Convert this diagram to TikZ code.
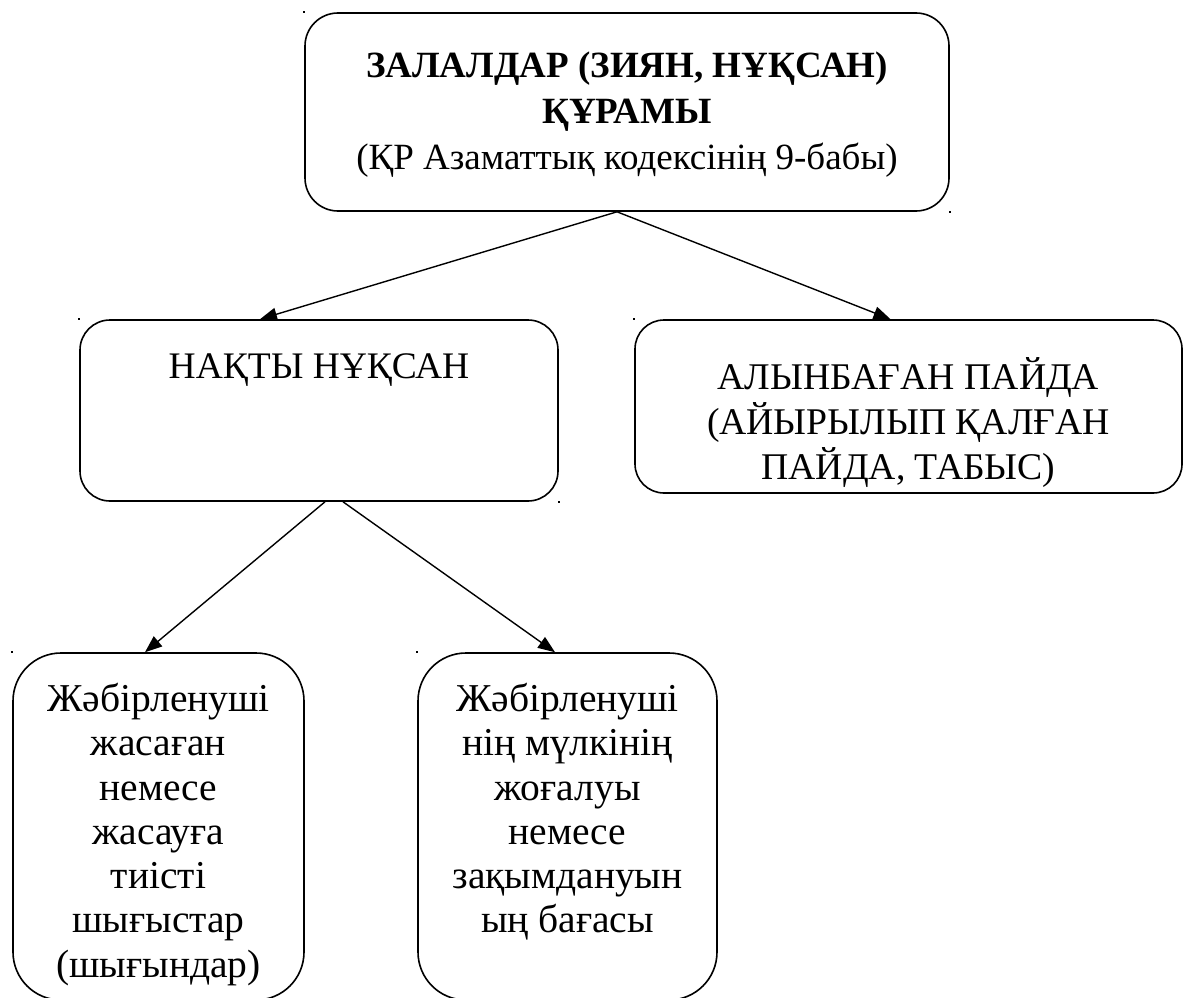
\documentclass[tikz,border=0pt]{standalone}
\usepackage{fontspec}
\setmainfont{Liberation Serif}
\usetikzlibrary{arrows.meta}
\begin{document}
\begin{tikzpicture}[x=1pt,y=-1pt,
  box/.style={draw, line width=1.6pt, inner sep=0pt},
  txt/.style={align=center, inner sep=0pt, font=\fontsize{37}{44}\selectfont},
  bigtxt/.style={align=center, inner sep=0pt, font=\fontsize{39.5}{44.3}\selectfont},
  arr/.style={-{Triangle[length=17pt,width=13pt]}, line width=1.4pt},
  anchordot/.style={fill, inner sep=0pt, minimum size=2.5pt}]
\useasboundingbox (0,0) rectangle (1183,998);
% boxes
\node[box, rounded corners=33pt, minimum width=644pt, minimum height=198pt] (top) at (627,112) {};
\node[box, rounded corners=30pt, minimum width=478pt, minimum height=181pt] (left) at (319,410.5) {};
\node[box, rounded corners=29pt, minimum width=547pt, minimum height=173pt] (right) at (908.5,406.5) {};
\node[box, rounded corners=48pt, minimum width=291pt, minimum height=347pt] (bl) at (158.5,826.5) {};
\node[box, rounded corners=48pt, minimum width=299pt, minimum height=347pt] (bm) at (567.5,826.5) {};
% texts
\node[txt, font=\fontsize{37}{46}\selectfont, anchor=north] (toptext) at (627,52) {\textbf{ЗАЛАЛДАР (ЗИЯН, НҰҚСАН)}\\\textbf{ҚҰРАМЫ}\\(ҚР Азаматтық кодексінің 9-бабы)};
\node[txt, font=\fontsize{37.5}{44}\selectfont, anchor=north] (lefttext) at (319,353) {НАҚТЫ НҰҚСАН};
\node[txt, font=\fontsize{37.7}{45}\selectfont] (righttext) at (908.5,423) {АЛЫНБАҒАН ПАЙДА\\(АЙЫРЫЛЫП ҚАЛҒАН\\ПАЙДА, ТАБЫС)};
\node[bigtxt, anchor=north] (bltext) at (158.5,683) {Жәбірленуші\\жасаған\\немесе\\жасауға\\тиісті\\шығыстар\\(шығындар)};
\node[bigtxt, anchor=north] (bmtext) at (567.5,683) {Жәбірленуші\\нің мүлкінің\\жоғалуы\\немесе\\зақымдануын\\ың бағасы};
% connectors
\draw[arr] ([xshift=-10pt]top.south) -- ([xshift=-59pt]left.north);
\draw[arr] ([xshift=-10pt]top.south) -- ([xshift=-18pt]right.north);
\draw[arr] ([xshift=6pt]left.south) -- ([xshift=-13.5pt]bl.north);
\draw[arr] ([xshift=24pt]left.south) -- ([xshift=-12.5pt]bm.north);
% anchor marks
\node[anchordot] (d1) at (top.north west) {};
\node[anchordot] (d2) at (top.south east) {};
\node[anchordot] (d3) at (left.north west) {};
\node[anchordot] (d4) at (left.south east) {};
\node[anchordot] (d5) at (right.north west) {};
\node[anchordot] (d6) at (bl.north west) {};
\node[anchordot] (d7) at (bm.north west) {};
\end{tikzpicture}
\end{document}
